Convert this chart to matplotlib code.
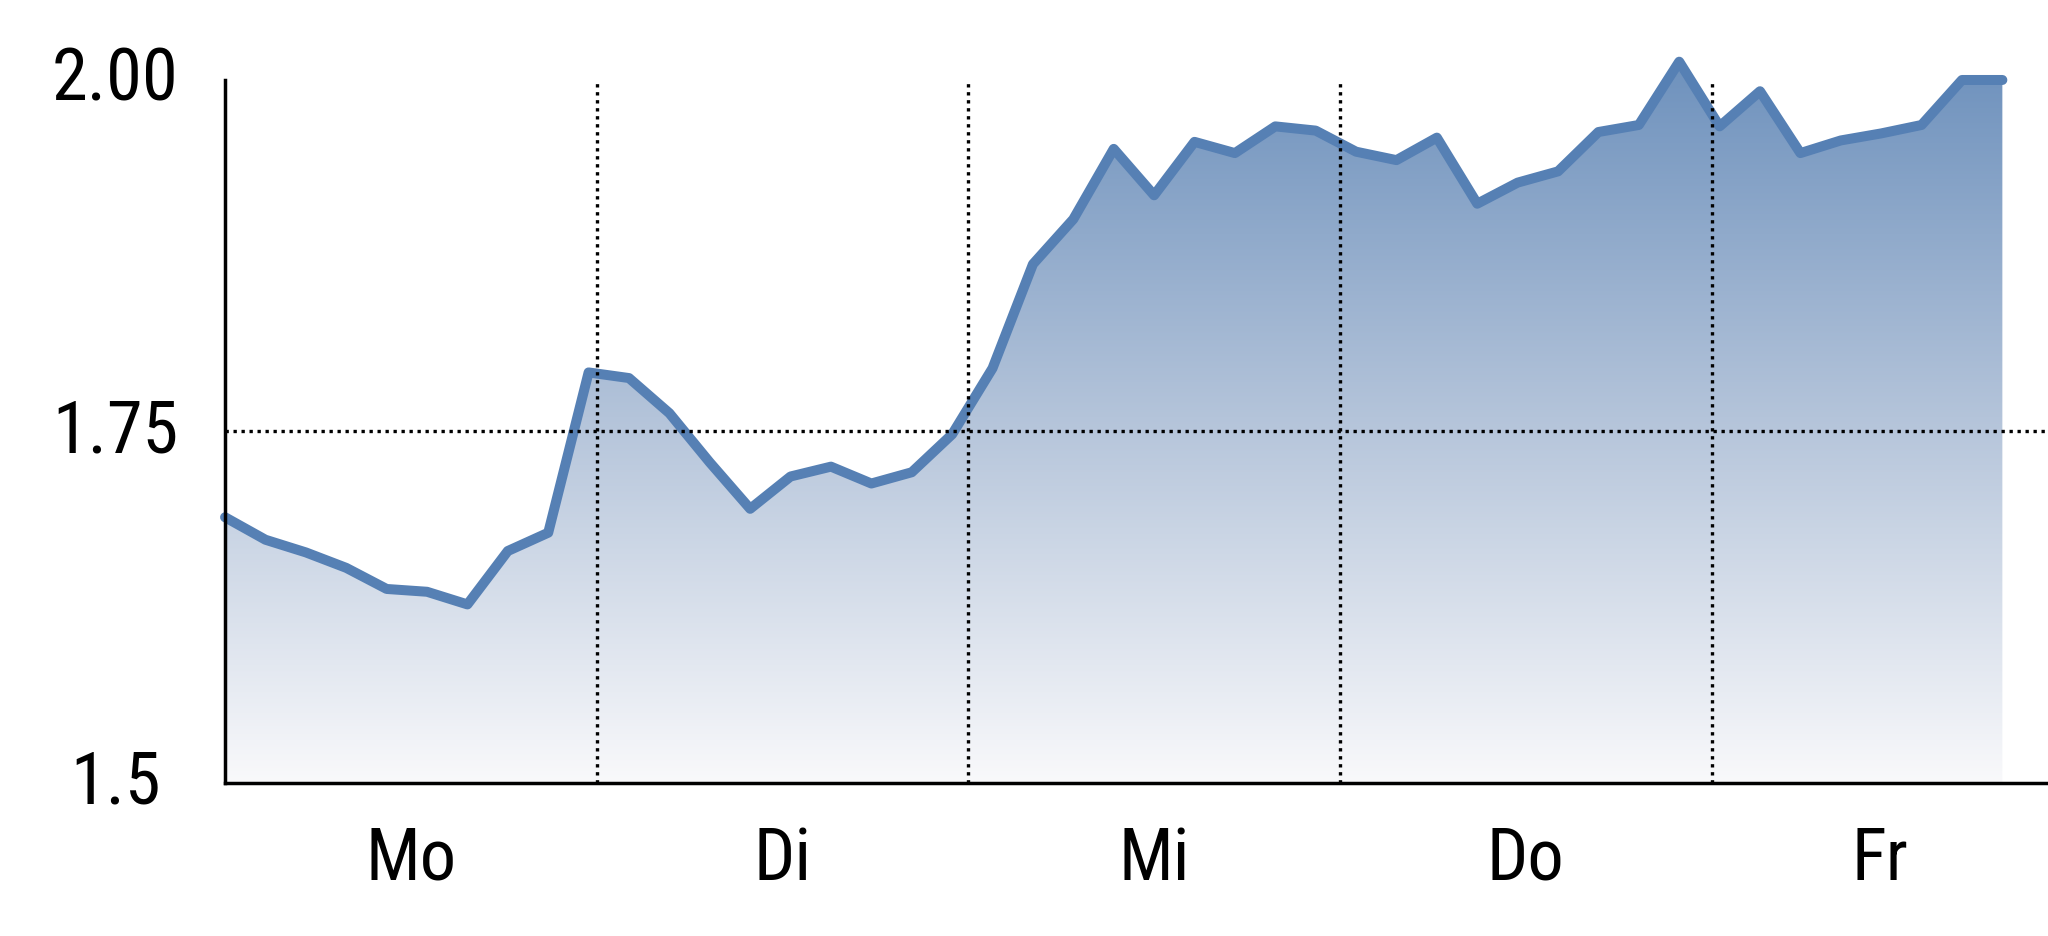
import matplotlib
matplotlib.use("Agg")
import matplotlib.pyplot as plt
import numpy as np
from matplotlib.colors import LinearSegmentedColormap
from matplotlib.patches import Polygon
from matplotlib import font_manager
from matplotlib.textpath import TextPath
import matplotlib.transforms as mtransforms

values = [1.689, 1.673, 1.664, 1.653, 1.638, 1.636, 1.627, 1.665, 1.678,
          1.792, 1.788, 1.763, 1.728, 1.695, 1.718, 1.725, 1.713, 1.721,
          1.748, 1.795, 1.869, 1.901, 1.951, 1.918, 1.956, 1.948, 1.967,
          1.964, 1.949, 1.943, 1.959, 1.912, 1.927, 1.935, 1.963, 1.968,
          2.013, 1.967, 1.992, 1.948, 1.957, 1.962, 1.968, 2.000, 2.000]
day_labels = ["Mo", "Di", "Mi", "Do", "Fr"]
day_bounds = [9.2, 18.4, 27.6, 36.8]
day_centers = [4.6, 13.8, 23.0, 32.2, 40.97]
y_ticks = [1.5, 1.75, 2.0]
y_ticklabels = ["1.5", "1.75", "2.00"]


def pick_font(target_ratio=2.2, digit_px=53):
    """Choose an installed sans font whose '2.00' proportions match the chart."""
    cands = []
    seen = set()
    for f in sorted(font_manager.fontManager.ttflist, key=lambda f: f.fname):
        if f.style != "normal" or f.fname in seen:
            continue
        if f.weight not in (300, 400):
            continue
        nm = f.name
        st = str(f.stretch).lower()
        if not ("Narrow" in nm or "Condensed" in nm or "condensed" in st
                or nm in ("Liberation Sans", "Roboto", "Noto Sans", "Open Sans")):
            continue
        seen.add(f.fname)
        try:
            tp = TextPath((0, 0), "2.00", prop=font_manager.FontProperties(fname=f.fname, size=100))
            ext = tp.get_extents()
        except Exception:
            continue
        if ext.height <= 0:
            continue
        ratio = ext.width / ext.height
        grot = 0 if ("Roboto" in nm or "Liberation" in nm) else 1
        cands.append((abs(ratio - target_ratio), grot, 0 if f.weight == 400 else 1,
                      f.fname, ext.height))
    if not cands:
        return font_manager.FontProperties(family=['Liberation Sans', 'DejaVu Sans'], size=54)
    cands.sort()
    best = cands[0]
    chosen = None
    # prefer an Arial-like grotesque face of regular weight if proportions are close
    for c in cands:
        if c[1] == 0 and c[2] == 0 and c[0] < best[0] + 0.15:
            chosen = c
            break
    if chosen is None:
        for c in cands:
            if c[2] == 0 and c[0] < best[0] + 0.08:
                chosen = c
                break
    if chosen is None:
        chosen = best
    fname, h = chosen[3], chosen[4]
    size = digit_px * 72.0 / h
    return font_manager.FontProperties(fname=fname, size=size)


tick_font = pick_font()

fig = plt.figure(figsize=(20.48, 9.37), dpi=100)
ax = fig.add_axes([0.1099, 0.1633, 0.8901, 0.8253])

x = np.arange(len(values))
y = np.array(values)
ymin, ymax = 1.5, 2.05
xmax = 45.13

# gradient fill
cmap = LinearSegmentedColormap.from_list("g", ["#f9f9fb", "#b4c4da", "#6c90bc"])
grad = np.linspace(0, 1, 256).reshape(-1, 1)
top = 2.02
im = ax.imshow(grad, extent=[x[0], x[-1], ymin, top], origin="lower",
               aspect="auto", cmap=cmap, zorder=1)
poly = Polygon(np.column_stack([np.r_[x[0], x, x[-1]], np.r_[ymin, y, ymin]]),
               closed=True, facecolor="none", edgecolor="none")
ax.add_patch(poly)
im.set_clip_path(poly)

ax.plot(x, y, color="#5680b4", lw=7.2, solid_capstyle="round",
        solid_joinstyle="round", zorder=3, clip_on=False)

for b in day_bounds:
    ax.plot([b, b], [1.5, 2.0], color="black", lw=2.4, dashes=(1, 1.4), zorder=4)
ax.plot([0, xmax], [1.75, 1.75], color="black", lw=2.4, dashes=(1, 1.4), zorder=4)

ax.set_xlim(0, xmax)
ax.set_ylim(ymin, ymax)

for s in ["top", "right"]:
    ax.spines[s].set_visible(False)
ax.spines["left"].set_bounds(1.5, 2.0)
ax.spines["left"].set_linewidth(2.5)
ax.spines["bottom"].set_linewidth(2.5)
ax.spines["left"].set_zorder(5)
ax.spines["bottom"].set_zorder(5)

ax.set_yticks(y_ticks)
ax.set_yticklabels(y_ticklabels, ha="center")
ax.tick_params(axis="y", length=0, pad=79)
ax.set_xticks(day_centers)
ax.set_xticklabels(day_labels)
ax.tick_params(axis="x", length=0, pad=30)
for lab in ax.get_yticklabels() + ax.get_xticklabels():
    lab.set_fontproperties(tick_font)
shift_up = mtransforms.ScaledTranslation(0, 7 / 100.0, fig.dpi_scale_trans)
for lab in ax.get_yticklabels():
    lab.set_transform(lab.get_transform() + shift_up)

fig.savefig("out.png", dpi=100)
